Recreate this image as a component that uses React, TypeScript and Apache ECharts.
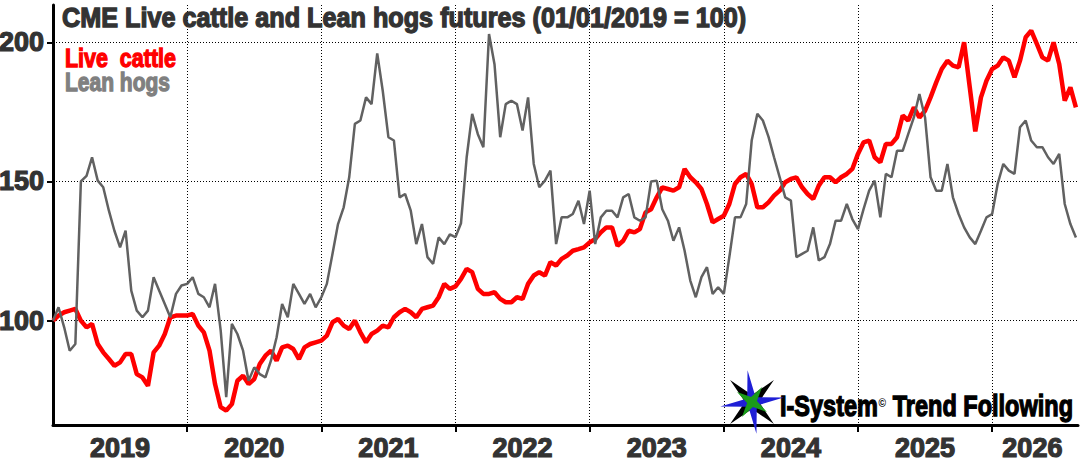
import React, { useEffect, useRef } from "react";
import * as echarts from "echarts";

const FONT = "'Liberation Sans Narrow', 'Liberation Sans', Arial, sans-serif";

// semi-monthly observation dates (1st and 16th of each month), 2019-01-01 .. 2026-08-16
const dates: string[] = [];
for (let k = 0; k < 184; k++) {
  const y = 2019 + Math.floor(k / 24);
  const m = Math.floor((k % 24) / 2) + 1;
  const d = k % 2 === 0 ? 1 : 16;
  dates.push(`${y}-${String(m).padStart(2, "0")}-${String(d).padStart(2, "0")}`);
}

const liveCattle: number[] = [
  100, 101.8, 103, 103.6, 104.2, 100, 97.6, 98.8, 91.6, 88.6, 86.2, 83.8, 85, 88, 88, 80.8, 79.6, 76.6, 88.6, 91, 95.2, 101.2, 101.8, 101.8,
  101.8, 102.4, 98.2, 95.8, 89.2, 77.2, 68.9, 67.7, 70, 78.4, 80.2, 77.2, 79, 84.4, 87.4, 89.2, 85.6, 90.4, 91, 89.8, 86.2, 90.4, 91.6, 92.2,
  92.8, 94.6, 99.4, 100.6, 98.2, 97, 100, 95.8, 92.2, 95.2, 96.4, 98.2, 97.6, 101.2, 103, 104.2, 103, 101.2, 104.2, 104.8, 105.4, 108.4, 113.2, 111.4,
  112.3, 115, 118.6, 117.4, 111.4, 109.6, 109.6, 110.2, 107.8, 106.6, 106.6, 108.4, 107.8, 113.2, 116.2, 117.4, 116.2, 121, 119.8, 122.2, 123.4, 125.1, 125.7, 126.3,
  128.1, 129.3, 131.7, 133.5, 133.5, 126.9, 128.7, 132.3, 131.7, 132.9, 138.9, 140, 144.3, 147.9, 147.3, 146.7, 147.9, 154.5, 151.5, 149.7, 147.3, 141.9, 135.3, 136.5,
  137.7, 141.9, 149.1, 151.5, 152.7, 149.1, 140.7, 140.7, 142.5, 144.9, 146.7, 149.7, 150.9, 151.5, 147.9, 145.5, 143.7, 148.5, 151.5, 151.5, 149.7, 151.5, 152.7, 154.5,
  159.9, 164, 164.7, 158.7, 156.9, 163.5, 163.5, 165.9, 173.7, 171.9, 176.6, 173, 175.4, 180.2, 185.6, 190.4, 193.4, 191.6, 191, 200, 183.8, 168, 180.2, 186.2,
  190.4, 191.6, 194.6, 193.4, 187.4, 193.4, 201.8, 204.2, 199.4, 194.6, 193.4, 200, 192.2, 179, 183.8, 176.6,
];

const leanHogs: number[] = [
  100, 104.8, 97.6, 89.2, 91.6, 150, 152, 158.7, 150.3, 147.9, 139.5, 132.3, 126.3, 132.3, 110.8, 103.6, 101.2, 103.6, 115.6, 110.8, 106, 101.2, 109.6, 112.6,
  113.2, 115.6, 109.6, 108.4, 104.8, 113.2, 96.4, 72.5, 98.8, 95.2, 89.2, 78.4, 83.2, 80.8, 79.6, 85.6, 94, 106, 101.2, 113.2, 109.6, 106, 109.6, 104.8,
  108.4, 113.2, 124, 134.7, 140.7, 151.5, 170.7, 171.9, 180.2, 177.8, 196, 182.6, 165.9, 164.7, 144.3, 145.5, 139.5, 127.5, 134.7, 122.8, 120.4, 129.9, 127.5, 131,
  130, 135, 158.7, 174.3, 167, 162.3, 203, 192, 165.9, 177.8, 179, 177.8, 168.3, 180.2, 156.3, 147.9, 150.3, 153.9, 127.5, 137.1, 137.1, 138.3, 143.1, 134.7,
  146.7, 127.5, 137.1, 139.5, 139.5, 137.1, 144.3, 145.5, 137.1, 135.9, 137.1, 150, 150.3, 140, 135.9, 128.7, 133.5, 125.1, 114.4, 108.4, 115.6, 119.2, 109.6, 112,
  109.6, 122.8, 137.1, 137.1, 141.9, 164.7, 174.3, 171.9, 166, 158.7, 151.5, 144.3, 143.1, 122.8, 124, 125.1, 133.5, 121.6, 122.8, 127.5, 135.9, 135.9, 141.9, 136.5,
  132.9, 140, 146.7, 150.3, 137.1, 152.7, 151.5, 161, 161, 167, 173, 181.4, 173, 151.5, 146.7, 146.7, 156.3, 144.3, 138.3, 133.5, 129.9, 127.5, 132.3, 137.1,
  138.3, 149.1, 156.3, 153.9, 152.7, 169.5, 171.9, 164.7, 162.3, 162.3, 158.7, 156.3, 159.9, 141.9, 134.7, 129.9,
];

const yTicks = [100, 150, 200];
const yearTicks = [2020, 2021, 2022, 2023, 2024, 2025, 2026];
const yearLabelPos = [2019.5, 2020.5, 2021.5, 2022.5, 2023.5, 2024.5, 2025.5, 2026.3];

const TITLE = "CME Live cattle and Lean hogs futures (01/01/2019 = 100)";
const LEGEND = [
  { name: "Live  cattle", color: "#ff0000" },
  { name: "Lean hogs", color: "#808080" },
];

function toYear(d: string): number {
  const [y, m, dd] = d.split("-").map(Number);
  return y + (m - 1) / 12 + (dd - 1) / 365;
}

function measure(text: string, size: number): number {
  const ctx = document.createElement("canvas").getContext("2d")!;
  ctx.font = `bold ${size}px ${FONT}`;
  return ctx.measureText(text).width;
}

function star(cx: number, cy: number, ro: number, ri: number, a0: number): number[][] {
  const pts: number[][] = [];
  for (let i = 0; i < 8; i++) {
    const a = ((a0 + i * 45) * Math.PI) / 180;
    const r = i % 2 === 0 ? ro : ri;
    pts.push([cx + r * Math.cos(a), cy + r * Math.sin(a)]);
  }
  return pts;
}

function fittedText(text: string, x: number, y: number, size: number, width: number, color: string, z = 1) {
  const w = measure(text, size);
  return {
    type: "text",
    x,
    y,
    scaleX: width / w,
    z,
    style: {
      text,
      font: `bold ${size}px ${FONT}`,
      fill: color,
      stroke: color,
      lineWidth: 1.3,
      textAlign: "left",
      textVerticalAlign: "middle",
      align: "left",
      verticalAlign: "middle",
    },
  };
}

export default function App() {
  const ref = useRef<HTMLDivElement>(null);
  useEffect(() => {
    const chart = echarts.init(ref.current!, null, { renderer: "svg" });
    const lc = dates.map((d, i) => [toYear(d), liveCattle[i]]);
    const lh = dates.map((d, i) => [toYear(d), leanHogs[i]]);

    // logo text pieces
    const lsize = 30;
    const p1 = "I-System";
    const p3 = " Trend Following";
    const w1 = measure(p1, lsize);
    const w2 = measure("\u00a9", 13);
    const w3 = measure(p3, lsize);
    const logoScale = 293 / (w1 + w2 + 1 + w3);
    const textStyle = (text: string, size: number) => ({
      text,
      font: `bold ${size}px ${FONT}`,
      fill: "#000",
      stroke: "#000",
      lineWidth: 1.3,
      textAlign: "left",
      textVerticalAlign: "middle",
      align: "left",
      verticalAlign: "middle",
    });

    const cx = 752, cy = 402;
    const option: any = {
      animation: false,
      backgroundColor: "#ffffff",
      grid: { left: 53, right: 2, top: 5, bottom: 43, containLabel: false, outerBoundsMode: "none" },
      xAxis: {
        type: "value",
        min: 2019,
        max: 2026.64,
        axisLine: { show: true, onZero: false, lineStyle: { color: "#000", width: 3 } },
        axisTick: { show: true, customValues: yearTicks, length: 7, lineStyle: { color: "#000", width: 2 } },
        axisLabel: {
          customValues: yearLabelPos,
          formatter: (v: number) => String(Math.floor(v + 1e-6)),
          fontFamily: FONT,
          fontWeight: "bold",
          fontSize: 27,
          color: "#333",
          textBorderColor: "#333",
          textBorderWidth: 1.2,
          margin: 9,
        },
        splitLine: { show: true, lineStyle: { color: "#000", width: 1, type: [1, 2] } },
      },
      yAxis: {
        type: "value",
        min: 62.5,
        max: 213.4,
        axisLine: { show: true, lineStyle: { color: "#000", width: 3 } },
        axisTick: { show: true, customValues: yTicks, length: 6, lineStyle: { color: "#000", width: 2 } },
        axisLabel: {
          customValues: yTicks,
          fontFamily: FONT,
          fontWeight: "bold",
          fontSize: 27,
          color: "#333",
          textBorderColor: "#333",
          textBorderWidth: 1.2,
          margin: 9,
        },
        splitLine: { show: true, lineStyle: { color: "#000", width: 1, type: [1, 2] } },
      },
      series: [
        {
          type: "line",
          name: "Live cattle",
          data: lc,
          symbol: "none",
          lineStyle: { color: "#ff0000", width: 4.5 },
          z: 3,
        },
        {
          type: "line",
          name: "Lean hogs",
          data: lh,
          symbol: "none",
          lineStyle: { color: "#616161", width: 2.5 },
          z: 4,
        },
      ],
      graphic: [
        fittedText(TITLE, 62, 18, 27, 685, "#333", 1),
        fittedText(LEGEND[0].name, 65, 57.5, 26, 111, LEGEND[0].color, 10),
        fittedText(LEGEND[1].name, 65, 82, 26, 105, LEGEND[1].color, 10),
        { type: "polygon", z: 100, shape: { points: star(cx, cy, 31, 7, 45) }, style: { fill: "#000" } },
        { type: "polygon", z: 101, shape: { points: star(cx, cy, 32, 6, -8) }, style: { fill: "#1f1fd6" } },
        { type: "polygon", z: 102, shape: { points: star(cx, cy, 18, 5, 34) }, style: { fill: "#1a9c1a" } },
        {
          type: "group",
          x: 780,
          y: 406,
          scaleX: logoScale,
          z: 100,
          children: [
            { type: "text", x: 0, y: 0, z: 100, style: textStyle(p1, lsize) },
            { type: "text", x: w1 + 0.5, y: -4, z: 100, style: { ...textStyle("\u00a9", 13), lineWidth: 0 } },
            { type: "text", x: w1 + w2 + 1, y: 0, z: 100, style: textStyle(p3, lsize) },
          ],
        },
      ],
    };
    chart.setOption(option);
    return () => chart.dispose();
  }, []);
  return <div ref={ref} style={{ position: "absolute", left: 0, top: 0, width: 1080, height: 468 }} />;
}
